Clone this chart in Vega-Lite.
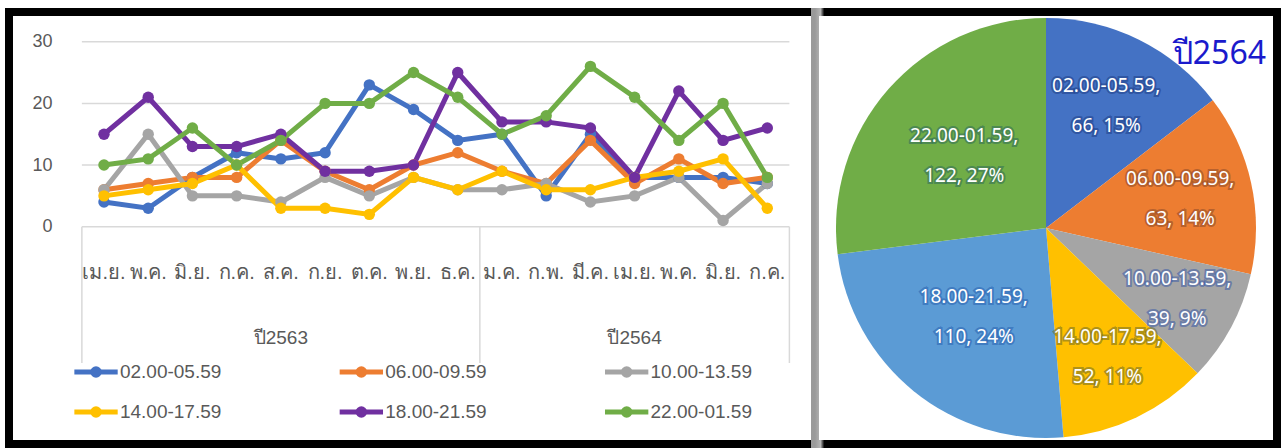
{
  "$schema": "https://vega.github.io/schema/vega-lite/v6.json",
  "background": "white",
  "padding": {"left": 5, "top": 8, "right": 0, "bottom": 0},
  "bounds": "flush",
  "spacing": 0,
  "config": {
    "view": {"stroke": "black", "strokeWidth": 8},
    "font": "Liberation Sans"
  },
  "resolve": {"scale": {"color": "independent", "stroke": "independent"}},
  "datasets": {
    "monthly": [
      {"slot": "02.00-05.59", "year": "ปี2563", "seq": 1, "month": "เม.ย.", "cases": 4},
      {"slot": "02.00-05.59", "year": "ปี2563", "seq": 2, "month": "พ.ค.", "cases": 3},
      {"slot": "02.00-05.59", "year": "ปี2563", "seq": 3, "month": "มิ.ย.", "cases": 8},
      {"slot": "02.00-05.59", "year": "ปี2563", "seq": 4, "month": "ก.ค.", "cases": 12},
      {"slot": "02.00-05.59", "year": "ปี2563", "seq": 5, "month": "ส.ค.", "cases": 11},
      {"slot": "02.00-05.59", "year": "ปี2563", "seq": 6, "month": "ก.ย.", "cases": 12},
      {"slot": "02.00-05.59", "year": "ปี2563", "seq": 7, "month": "ต.ค.", "cases": 23},
      {"slot": "02.00-05.59", "year": "ปี2563", "seq": 8, "month": "พ.ย.", "cases": 19},
      {"slot": "02.00-05.59", "year": "ปี2563", "seq": 9, "month": "ธ.ค.", "cases": 14},
      {"slot": "02.00-05.59", "year": "ปี2564", "seq": 10, "month": "ม.ค.", "cases": 15},
      {"slot": "02.00-05.59", "year": "ปี2564", "seq": 11, "month": "ก.พ.", "cases": 5},
      {"slot": "02.00-05.59", "year": "ปี2564", "seq": 12, "month": "มี.ค.", "cases": 15},
      {"slot": "02.00-05.59", "year": "ปี2564", "seq": 13, "month": "เม.ย.", "cases": 8},
      {"slot": "02.00-05.59", "year": "ปี2564", "seq": 14, "month": "พ.ค.", "cases": 8},
      {"slot": "02.00-05.59", "year": "ปี2564", "seq": 15, "month": "มิ.ย.", "cases": 8},
      {"slot": "02.00-05.59", "year": "ปี2564", "seq": 16, "month": "ก.ค.", "cases": 7},
      {"slot": "06.00-09.59", "year": "ปี2563", "seq": 1, "month": "เม.ย.", "cases": 6},
      {"slot": "06.00-09.59", "year": "ปี2563", "seq": 2, "month": "พ.ค.", "cases": 7},
      {"slot": "06.00-09.59", "year": "ปี2563", "seq": 3, "month": "มิ.ย.", "cases": 8},
      {"slot": "06.00-09.59", "year": "ปี2563", "seq": 4, "month": "ก.ค.", "cases": 8},
      {"slot": "06.00-09.59", "year": "ปี2563", "seq": 5, "month": "ส.ค.", "cases": 14},
      {"slot": "06.00-09.59", "year": "ปี2563", "seq": 6, "month": "ก.ย.", "cases": 9},
      {"slot": "06.00-09.59", "year": "ปี2563", "seq": 7, "month": "ต.ค.", "cases": 6},
      {"slot": "06.00-09.59", "year": "ปี2563", "seq": 8, "month": "พ.ย.", "cases": 10},
      {"slot": "06.00-09.59", "year": "ปี2563", "seq": 9, "month": "ธ.ค.", "cases": 12},
      {"slot": "06.00-09.59", "year": "ปี2564", "seq": 10, "month": "ม.ค.", "cases": 9},
      {"slot": "06.00-09.59", "year": "ปี2564", "seq": 11, "month": "ก.พ.", "cases": 7},
      {"slot": "06.00-09.59", "year": "ปี2564", "seq": 12, "month": "มี.ค.", "cases": 14},
      {"slot": "06.00-09.59", "year": "ปี2564", "seq": 13, "month": "เม.ย.", "cases": 7},
      {"slot": "06.00-09.59", "year": "ปี2564", "seq": 14, "month": "พ.ค.", "cases": 11},
      {"slot": "06.00-09.59", "year": "ปี2564", "seq": 15, "month": "มิ.ย.", "cases": 7},
      {"slot": "06.00-09.59", "year": "ปี2564", "seq": 16, "month": "ก.ค.", "cases": 8},
      {"slot": "10.00-13.59", "year": "ปี2563", "seq": 1, "month": "เม.ย.", "cases": 6},
      {"slot": "10.00-13.59", "year": "ปี2563", "seq": 2, "month": "พ.ค.", "cases": 15},
      {"slot": "10.00-13.59", "year": "ปี2563", "seq": 3, "month": "มิ.ย.", "cases": 5},
      {"slot": "10.00-13.59", "year": "ปี2563", "seq": 4, "month": "ก.ค.", "cases": 5},
      {"slot": "10.00-13.59", "year": "ปี2563", "seq": 5, "month": "ส.ค.", "cases": 4},
      {"slot": "10.00-13.59", "year": "ปี2563", "seq": 6, "month": "ก.ย.", "cases": 8},
      {"slot": "10.00-13.59", "year": "ปี2563", "seq": 7, "month": "ต.ค.", "cases": 5},
      {"slot": "10.00-13.59", "year": "ปี2563", "seq": 8, "month": "พ.ย.", "cases": 8},
      {"slot": "10.00-13.59", "year": "ปี2563", "seq": 9, "month": "ธ.ค.", "cases": 6},
      {"slot": "10.00-13.59", "year": "ปี2564", "seq": 10, "month": "ม.ค.", "cases": 6},
      {"slot": "10.00-13.59", "year": "ปี2564", "seq": 11, "month": "ก.พ.", "cases": 7},
      {"slot": "10.00-13.59", "year": "ปี2564", "seq": 12, "month": "มี.ค.", "cases": 4},
      {"slot": "10.00-13.59", "year": "ปี2564", "seq": 13, "month": "เม.ย.", "cases": 5},
      {"slot": "10.00-13.59", "year": "ปี2564", "seq": 14, "month": "พ.ค.", "cases": 8},
      {"slot": "10.00-13.59", "year": "ปี2564", "seq": 15, "month": "มิ.ย.", "cases": 1},
      {"slot": "10.00-13.59", "year": "ปี2564", "seq": 16, "month": "ก.ค.", "cases": 7},
      {"slot": "14.00-17.59", "year": "ปี2563", "seq": 1, "month": "เม.ย.", "cases": 5},
      {"slot": "14.00-17.59", "year": "ปี2563", "seq": 2, "month": "พ.ค.", "cases": 6},
      {"slot": "14.00-17.59", "year": "ปี2563", "seq": 3, "month": "มิ.ย.", "cases": 7},
      {"slot": "14.00-17.59", "year": "ปี2563", "seq": 4, "month": "ก.ค.", "cases": 10},
      {"slot": "14.00-17.59", "year": "ปี2563", "seq": 5, "month": "ส.ค.", "cases": 3},
      {"slot": "14.00-17.59", "year": "ปี2563", "seq": 6, "month": "ก.ย.", "cases": 3},
      {"slot": "14.00-17.59", "year": "ปี2563", "seq": 7, "month": "ต.ค.", "cases": 2},
      {"slot": "14.00-17.59", "year": "ปี2563", "seq": 8, "month": "พ.ย.", "cases": 8},
      {"slot": "14.00-17.59", "year": "ปี2563", "seq": 9, "month": "ธ.ค.", "cases": 6},
      {"slot": "14.00-17.59", "year": "ปี2564", "seq": 10, "month": "ม.ค.", "cases": 9},
      {"slot": "14.00-17.59", "year": "ปี2564", "seq": 11, "month": "ก.พ.", "cases": 6},
      {"slot": "14.00-17.59", "year": "ปี2564", "seq": 12, "month": "มี.ค.", "cases": 6},
      {"slot": "14.00-17.59", "year": "ปี2564", "seq": 13, "month": "เม.ย.", "cases": 8},
      {"slot": "14.00-17.59", "year": "ปี2564", "seq": 14, "month": "พ.ค.", "cases": 9},
      {"slot": "14.00-17.59", "year": "ปี2564", "seq": 15, "month": "มิ.ย.", "cases": 11},
      {"slot": "14.00-17.59", "year": "ปี2564", "seq": 16, "month": "ก.ค.", "cases": 3},
      {"slot": "18.00-21.59", "year": "ปี2563", "seq": 1, "month": "เม.ย.", "cases": 15},
      {"slot": "18.00-21.59", "year": "ปี2563", "seq": 2, "month": "พ.ค.", "cases": 21},
      {"slot": "18.00-21.59", "year": "ปี2563", "seq": 3, "month": "มิ.ย.", "cases": 13},
      {"slot": "18.00-21.59", "year": "ปี2563", "seq": 4, "month": "ก.ค.", "cases": 13},
      {"slot": "18.00-21.59", "year": "ปี2563", "seq": 5, "month": "ส.ค.", "cases": 15},
      {"slot": "18.00-21.59", "year": "ปี2563", "seq": 6, "month": "ก.ย.", "cases": 9},
      {"slot": "18.00-21.59", "year": "ปี2563", "seq": 7, "month": "ต.ค.", "cases": 9},
      {"slot": "18.00-21.59", "year": "ปี2563", "seq": 8, "month": "พ.ย.", "cases": 10},
      {"slot": "18.00-21.59", "year": "ปี2563", "seq": 9, "month": "ธ.ค.", "cases": 25},
      {"slot": "18.00-21.59", "year": "ปี2564", "seq": 10, "month": "ม.ค.", "cases": 17},
      {"slot": "18.00-21.59", "year": "ปี2564", "seq": 11, "month": "ก.พ.", "cases": 17},
      {"slot": "18.00-21.59", "year": "ปี2564", "seq": 12, "month": "มี.ค.", "cases": 16},
      {"slot": "18.00-21.59", "year": "ปี2564", "seq": 13, "month": "เม.ย.", "cases": 8},
      {"slot": "18.00-21.59", "year": "ปี2564", "seq": 14, "month": "พ.ค.", "cases": 22},
      {"slot": "18.00-21.59", "year": "ปี2564", "seq": 15, "month": "มิ.ย.", "cases": 14},
      {"slot": "18.00-21.59", "year": "ปี2564", "seq": 16, "month": "ก.ค.", "cases": 16},
      {"slot": "22.00-01.59", "year": "ปี2563", "seq": 1, "month": "เม.ย.", "cases": 10},
      {"slot": "22.00-01.59", "year": "ปี2563", "seq": 2, "month": "พ.ค.", "cases": 11},
      {"slot": "22.00-01.59", "year": "ปี2563", "seq": 3, "month": "มิ.ย.", "cases": 16},
      {"slot": "22.00-01.59", "year": "ปี2563", "seq": 4, "month": "ก.ค.", "cases": 10},
      {"slot": "22.00-01.59", "year": "ปี2563", "seq": 5, "month": "ส.ค.", "cases": 14},
      {"slot": "22.00-01.59", "year": "ปี2563", "seq": 6, "month": "ก.ย.", "cases": 20},
      {"slot": "22.00-01.59", "year": "ปี2563", "seq": 7, "month": "ต.ค.", "cases": 20},
      {"slot": "22.00-01.59", "year": "ปี2563", "seq": 8, "month": "พ.ย.", "cases": 25},
      {"slot": "22.00-01.59", "year": "ปี2563", "seq": 9, "month": "ธ.ค.", "cases": 21},
      {"slot": "22.00-01.59", "year": "ปี2564", "seq": 10, "month": "ม.ค.", "cases": 15},
      {"slot": "22.00-01.59", "year": "ปี2564", "seq": 11, "month": "ก.พ.", "cases": 18},
      {"slot": "22.00-01.59", "year": "ปี2564", "seq": 12, "month": "มี.ค.", "cases": 26},
      {"slot": "22.00-01.59", "year": "ปี2564", "seq": 13, "month": "เม.ย.", "cases": 21},
      {"slot": "22.00-01.59", "year": "ปี2564", "seq": 14, "month": "พ.ค.", "cases": 14},
      {"slot": "22.00-01.59", "year": "ปี2564", "seq": 15, "month": "มิ.ย.", "cases": 20},
      {"slot": "22.00-01.59", "year": "ปี2564", "seq": 16, "month": "ก.ค.", "cases": 8}
    ],
    "total2564": [
      {"slot": "02.00-05.59", "count": 66, "share": 15},
      {"slot": "06.00-09.59", "count": 63, "share": 14},
      {"slot": "10.00-13.59", "count": 39, "share": 9},
      {"slot": "14.00-17.59", "count": 52, "share": 11},
      {"slot": "18.00-21.59", "count": 110, "share": 24},
      {"slot": "22.00-01.59", "count": 122, "share": 27}
    ]
  },
  "hconcat": [
    {
      "width": 806,
      "height": 432,
      "data": {"name": "monthly"},
      "layer": [
        {
          "data": {"values": [{}]},
          "mark": {"type": "rule", "color": "#d9d9d9", "strokeWidth": 1.5},
          "encoding": {
            "x": {"datum": 0.5, "type": "quantitative", "scale": {"domain": [-1.148, 17.079], "nice": false, "zero": false}, "axis": null},
            "x2": {"datum": 16.5},
            "y": {"datum": 30, "type": "quantitative", "scale": {"domain": [-35.24, 34.82], "nice": false, "zero": false}, "axis": {"values": [0, 10, 20, 30], "domain": false, "ticks": false, "grid": false, "labelFontSize": 18, "labelColor": "#595959", "labelPadding": 0, "offset": -43, "title": null}}
          }
        },
        {
          "data": {"values": [{}]},
          "mark": {"type": "rule", "color": "#d9d9d9", "strokeWidth": 1.5},
          "encoding": {
            "x": {"datum": 0.5, "type": "quantitative", "axis": null},
            "x2": {"datum": 16.5},
            "y": {"datum": 20, "type": "quantitative"}
          }
        },
        {
          "data": {"values": [{}]},
          "mark": {"type": "rule", "color": "#d9d9d9", "strokeWidth": 1.5},
          "encoding": {
            "x": {"datum": 0.5, "type": "quantitative", "axis": null},
            "x2": {"datum": 16.5},
            "y": {"datum": 10, "type": "quantitative"}
          }
        },
        {
          "data": {"values": [{}]},
          "mark": {"type": "rule", "color": "#d9d9d9", "strokeWidth": 1.5},
          "encoding": {
            "x": {"datum": 0.5, "type": "quantitative", "axis": null},
            "x2": {"datum": 16.5},
            "y": {"datum": 0, "type": "quantitative"}
          }
        },
        {
          "data": {"values": [{}]},
          "mark": {"type": "rule", "color": "#d9d9d9", "strokeWidth": 1.5},
          "encoding": {
            "x": {"datum": 0.5, "type": "quantitative", "axis": null},
            "y": {"datum": 0, "type": "quantitative"},
            "y2": {"datum": -22.1}
          }
        },
        {
          "data": {"values": [{}]},
          "mark": {"type": "rule", "color": "#d9d9d9", "strokeWidth": 1.5},
          "encoding": {
            "x": {"datum": 9.5, "type": "quantitative", "axis": null},
            "y": {"datum": 0, "type": "quantitative"},
            "y2": {"datum": -22.1}
          }
        },
        {
          "data": {"values": [{}]},
          "mark": {"type": "rule", "color": "#d9d9d9", "strokeWidth": 1.5},
          "encoding": {
            "x": {"datum": 16.5, "type": "quantitative", "axis": null},
            "y": {"datum": 0, "type": "quantitative"},
            "y2": {"datum": -22.1}
          }
        },
        {
          "transform": [{"filter": "datum.slot === '02.00-05.59'"}],
          "mark": {"type": "text", "fontSize": 20, "font": "Liberation Sans", "color": "#595959", "baseline": "middle"},
          "encoding": {
            "x": {"field": "seq", "type": "quantitative", "axis": null},
            "y": {"datum": -7.5, "type": "quantitative"},
            "text": {"field": "month"}
          }
        },
        {
          "transform": [
            {"filter": "datum.slot === '02.00-05.59'"},
            {"aggregate": [{"op": "mean", "field": "seq", "as": "mid"}], "groupby": ["year"]}
          ],
          "mark": {"type": "text", "fontSize": 19, "font": "Liberation Sans", "color": "#595959", "baseline": "middle"},
          "encoding": {
            "x": {"field": "mid", "type": "quantitative", "axis": null},
            "y": {"datum": -18, "type": "quantitative"},
            "text": {"field": "year"}
          }
        },
        {
          "mark": {"type": "line", "strokeWidth": 5},
          "encoding": {
            "x": {"field": "seq", "type": "quantitative", "axis": null},
            "y": {"field": "cases", "type": "quantitative"},
            "stroke": {
              "field": "slot", "type": "nominal",
              "scale": {"domain": ["02.00-05.59", "06.00-09.59", "10.00-13.59", "14.00-17.59", "18.00-21.59", "22.00-01.59"], "range": ["#4472C4", "#ED7D31", "#A5A5A5", "#FFC000", "#7030A0", "#70AD47"]},
              "legend": null
            }
          }
        },
        {
          "mark": {"type": "point", "filled": true, "size": 130, "opacity": 1},
          "encoding": {
            "x": {"field": "seq", "type": "quantitative", "axis": null},
            "y": {"field": "cases", "type": "quantitative"},
            "color": {
              "field": "slot", "type": "nominal",
              "scale": {"domain": ["02.00-05.59", "06.00-09.59", "10.00-13.59", "14.00-17.59", "18.00-21.59", "22.00-01.59"], "range": ["#4472C4", "#ED7D31", "#A5A5A5", "#FFC000", "#7030A0", "#70AD47"]},
              "legend": null
            }
          }
        },
        {
          "transform": [
            {"filter": "datum.seq === 1"},
            {"window": [{"op": "row_number", "as": "k"}]},
            {"calculate": "0.82 + ((datum.k - 1) % 3) * 6.0", "as": "keyX"},
            {"calculate": "datum.keyX - 0.49", "as": "keyX0"},
            {"calculate": "datum.keyX + 0.49", "as": "keyX1"},
            {"calculate": "datum.keyX + 0.54", "as": "keyText"},
            {"calculate": "-23.56 - floor((datum.k - 1) / 3) * 6.49", "as": "keyY"}
          ],
          "layer": [
            {
              "mark": {"type": "rule", "strokeWidth": 5},
              "encoding": {
                "x": {"field": "keyX0", "type": "quantitative", "axis": null},
                "x2": {"field": "keyX1"},
                "y": {"field": "keyY", "type": "quantitative"},
                "stroke": {"field": "slot", "type": "nominal", "legend": null}
              }
            },
            {
              "mark": {"type": "point", "filled": true, "size": 130, "opacity": 1},
              "encoding": {
                "x": {"field": "keyX", "type": "quantitative", "axis": null},
                "y": {"field": "keyY", "type": "quantitative"},
                "color": {"field": "slot", "type": "nominal", "legend": null}
              }
            },
            {
              "mark": {"type": "text", "align": "left", "baseline": "middle", "fontSize": 19, "font": "Liberation Sans", "color": "#595959"},
              "encoding": {
                "x": {"field": "keyText", "type": "quantitative", "axis": null},
                "y": {"field": "keyY", "type": "quantitative"},
                "text": {"field": "slot"}
              }
            }
          ]
        }
      ]
    },
    {
      "width": 462,
      "height": 432,
      "view": {
        "strokeWidth": 8,
        "stroke": {"gradient": "linear", "x1": 0, "y1": 0, "x2": 1, "y2": 0, "stops": [{"offset": 0, "color": "#9a9a9a"}, {"offset": 0.012, "color": "#b5b5b5"}, {"offset": 0.02, "color": "black"}, {"offset": 1, "color": "black"}]}
      },
      "title": {"text": "ปี2564", "anchor": "end", "frame": "group", "offset": -84, "dx": -11, "fontSize": 32, "font": "Noto Sans", "fontWeight": "normal", "color": "#1a1acc", "baseline": "alphabetic"},
      "data": {"name": "total2564"},
      "transform": [{"calculate": "datum.slot + ',\\n' + datum.count + ', ' + datum.share + '%'", "as": "label"}],
      "layer": [
        {
          "mark": {"type": "arc", "outerRadius": 210},
          "encoding": {
            "theta": {"field": "count", "type": "quantitative", "stack": true},
            "order": {"field": "slot", "type": "ordinal"},
            "color": {
              "field": "slot", "type": "nominal",
              "scale": {"domain": ["02.00-05.59", "06.00-09.59", "10.00-13.59", "14.00-17.59", "18.00-21.59", "22.00-01.59"], "range": ["#4472C4", "#ED7D31", "#A5A5A5", "#FFC000", "#5B9BD5", "#70AD47"]},
              "legend": null
            }
          }
        },
        {
          "mark": {"type": "text", "fontSize": 19, "font": "Noto Sans", "lineBreak": "\n", "lineHeight": 40, "fill": "transparent", "strokeWidth": 4, "strokeOpacity": 0.55, "baseline": "middle", "dy": -20},
          "encoding": {
            "theta": {"field": "count", "type": "quantitative", "stack": true},
            "radius": {"field": "count", "type": "quantitative", "scale": {"type": "linear", "domain": [39, 122], "range": [149, 109], "zero": false}},
            "order": {"field": "slot", "type": "ordinal"},
            "text": {"field": "label"},
            "stroke": {
              "field": "slot", "type": "nominal",
              "scale": {"domain": ["02.00-05.59", "06.00-09.59", "10.00-13.59", "14.00-17.59", "18.00-21.59", "22.00-01.59"], "range": ["#1f3f86", "#8a4a2a", "#3a5aa8", "#6b6b2a", "#2a62b0", "#2f6b5a"]},
              "legend": null
            }
          }
        },
        {
          "mark": {"type": "text", "fontSize": 19, "font": "Noto Sans", "lineBreak": "\n", "lineHeight": 40, "fill": "white", "baseline": "middle", "dy": -20},
          "encoding": {
            "theta": {"field": "count", "type": "quantitative", "stack": true},
            "radius": {"field": "count", "type": "quantitative"},
            "order": {"field": "slot", "type": "ordinal"},
            "detail": {"field": "slot"},
            "text": {"field": "label"}
          }
        }
      ]
    }
  ]
}
